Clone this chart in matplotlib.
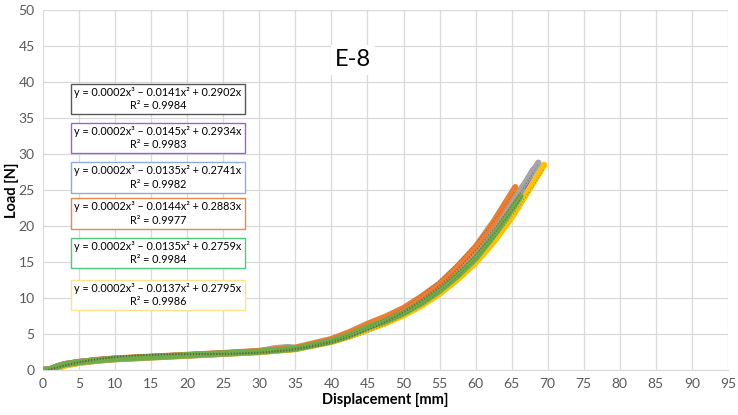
import numpy as np
import matplotlib
matplotlib.use("Agg")
import matplotlib.pyplot as plt

# ---- data ----
x_purple = [0, 1, 2, 3, 5, 7.5, 10, 15, 20, 25, 30, 35, 40, 42.5, 45, 47.5, 50, 52.5, 55, 57.5, 60, 62.5, 65, 67, 68.0]
y_purple = [0, 0.1, 0.5, 0.8, 1.1, 1.35, 1.55, 1.8, 2.05, 2.3, 2.55, 3.0, 4.0, 4.9, 6.0, 6.95, 8.1, 9.55, 11.3, 13.5, 16.0, 19.3, 23.0, 26.0, 27.8]

x_blue = [0, 1, 2, 3, 5, 7.5, 10, 15, 20, 25, 30, 35, 40, 42.5, 45, 47.5, 50, 52.5, 55, 57.5, 60, 62.5, 65, 66.6]
y_blue = [0, 0.0, 0.3, 0.7, 1.0, 1.3, 1.5, 1.75, 2.0, 2.25, 2.5, 2.95, 4.0, 4.9, 5.9, 6.85, 7.9, 9.4, 11.1, 13.2, 15.6, 18.8, 22.4, 24.8]

x_orange = [0, 1, 2, 3, 5, 7.5, 10, 15, 20, 25, 30, 35, 40, 42.5, 45, 47.5, 50, 52.5, 55, 57.5, 60, 62.5, 65, 65.5]
y_orange = [0, 0.1, 0.5, 0.8, 1.1, 1.4, 1.6, 1.85, 2.1, 2.35, 2.65, 3.1, 4.3, 5.25, 6.4, 7.4, 8.6, 10.2, 12.0, 14.4, 17.1, 20.6, 24.6, 25.4]

x_gray = [0, 1, 2, 3, 5, 7.5, 10, 15, 20, 25, 30, 32, 34, 35, 40, 42.5, 45, 47.5, 50, 52.5, 55, 57.5, 60, 62.5, 65, 67, 68.7]
y_gray = [0, 0.1, 0.5, 0.8, 1.1, 1.35, 1.55, 1.8, 2.05, 2.3, 2.6, 3.0, 3.2, 3.05, 4.0, 4.9, 6.0, 6.95, 8.1, 9.6, 11.4, 13.6, 16.2, 19.5, 23.2, 26.2, 28.8]

x_yellow = [0, 1, 2, 3, 5, 7.5, 10, 15, 20, 25, 30, 35, 40, 42.5, 45, 47.5, 50, 52.5, 55, 57.5, 60, 62.5, 65, 67, 69.5]
y_yellow = [0, 0.0, 0.2, 0.6, 1.0, 1.3, 1.5, 1.75, 2.0, 2.25, 2.5, 2.9, 3.9, 4.65, 5.6, 6.5, 7.6, 8.95, 10.6, 12.6, 14.9, 17.8, 21.2, 24.4, 28.5]

x_green = [0, 1, 2, 3, 5, 7.5, 10, 15, 20, 25, 30, 35, 40, 42.5, 45, 47.5, 50, 52.5, 55, 57.5, 60, 62.5, 65, 66.2]
y_green = [0, 0.1, 0.5, 0.8, 1.1, 1.35, 1.55, 1.8, 2.05, 2.3, 2.55, 2.95, 4.0, 4.85, 5.9, 6.8, 7.9, 9.3, 11.0, 13.1, 15.5, 18.7, 22.3, 24.1]

equations = [
    "y = 0.0002x³ – 0.0141x² + 0.2902x\nR² = 0.9984",
    "y = 0.0002x³ – 0.0145x² + 0.2934x\nR² = 0.9983",
    "y = 0.0002x³ – 0.0135x² + 0.2741x\nR² = 0.9982",
    "y = 0.0002x³ – 0.0144x² + 0.2883x\nR² = 0.9977",
    "y = 0.0002x³ – 0.0135x² + 0.2759x\nR² = 0.9984",
    "y = 0.0002x³ – 0.0137x² + 0.2795x\nR² = 0.9986",
]
box_colors = ["#595959", "#9B63CF", "#8FAADC", "#E9894A", "#4CCB7A", "#FFE38A"]

x_ticks = list(range(0, 100, 5))
y_ticks = list(range(0, 55, 5))

plt.rcParams['font.family'] = ['Lato', 'DejaVu Sans']

W, H = 738, 415
fig = plt.figure(figsize=(W / 100, H / 100), dpi=100)
ax = fig.add_axes([43 / W, 1 - 370 / H, (728 - 43) / W, 360 / H])
ax.set_xlim(0, 95)
ax.set_ylim(0, 50)
ax.set_xticks(x_ticks)
ax.set_yticks(y_ticks)
ax.grid(True, color="#D9D9D9", linewidth=0.9)
ax.set_axisbelow(True)
for s in ["top", "right", "left"]:
    ax.spines[s].set_visible(False)
ax.spines["bottom"].set_color("#D9D9D9")
ax.tick_params(length=0, labelsize=10, colors="#595959", pad=6)

series = [
    (x_purple, y_purple, "#7030A0"),
    (x_blue, y_blue, "#5B9BD5"),
    (x_yellow, y_yellow, "#FFC000"),
    (x_gray, y_gray, "#A5A5A5"),
    (x_orange, y_orange, "#ED7D31"),
    (x_green, y_green, "#70AD47"),
]
for xs, ys, c in series:
    ax.plot(xs, ys, color=c, linewidth=4.5, solid_capstyle="round",
            solid_joinstyle="round", zorder=3)
for xs, ys, c in series:
    p = np.polyfit(xs, ys, 3)
    xx = np.linspace(0, max(xs), 200)
    ax.plot(xx, np.polyval(p, xx), color="#595959", linewidth=0.7, alpha=0.6,
            linestyle=(0, (1, 2)), zorder=4)

ax.set_xlabel("Displacement [mm]", fontsize=10.5, fontweight="bold", color="#000000", labelpad=2)
ax.set_ylabel("Load [N]", fontsize=10.5, fontweight="bold", color="#000000")
ax.yaxis.set_label_coords((19 - 43) / 685, 0.5)

ax.text(353 / W, 1 - 60 / H, "E-8", transform=fig.transFigure, ha="center", va="center",
        fontsize=17, color="#000000",
        bbox=dict(facecolor="white", edgecolor="none", pad=3))

box_centers_y = [99, 138, 177.5, 213.5, 253, 295]
for yc, eq, c in zip(box_centers_y, equations, box_colors):
    fig.text(158 / W, 1 - yc / H, eq, ha="center", va="center", fontsize=7.8,
             color="#000000", linespacing=1.25,
             bbox=dict(facecolor="white", edgecolor=c, linewidth=1.0,
                       boxstyle="square,pad=0.3"))

fig.savefig("out.png", dpi=100)
